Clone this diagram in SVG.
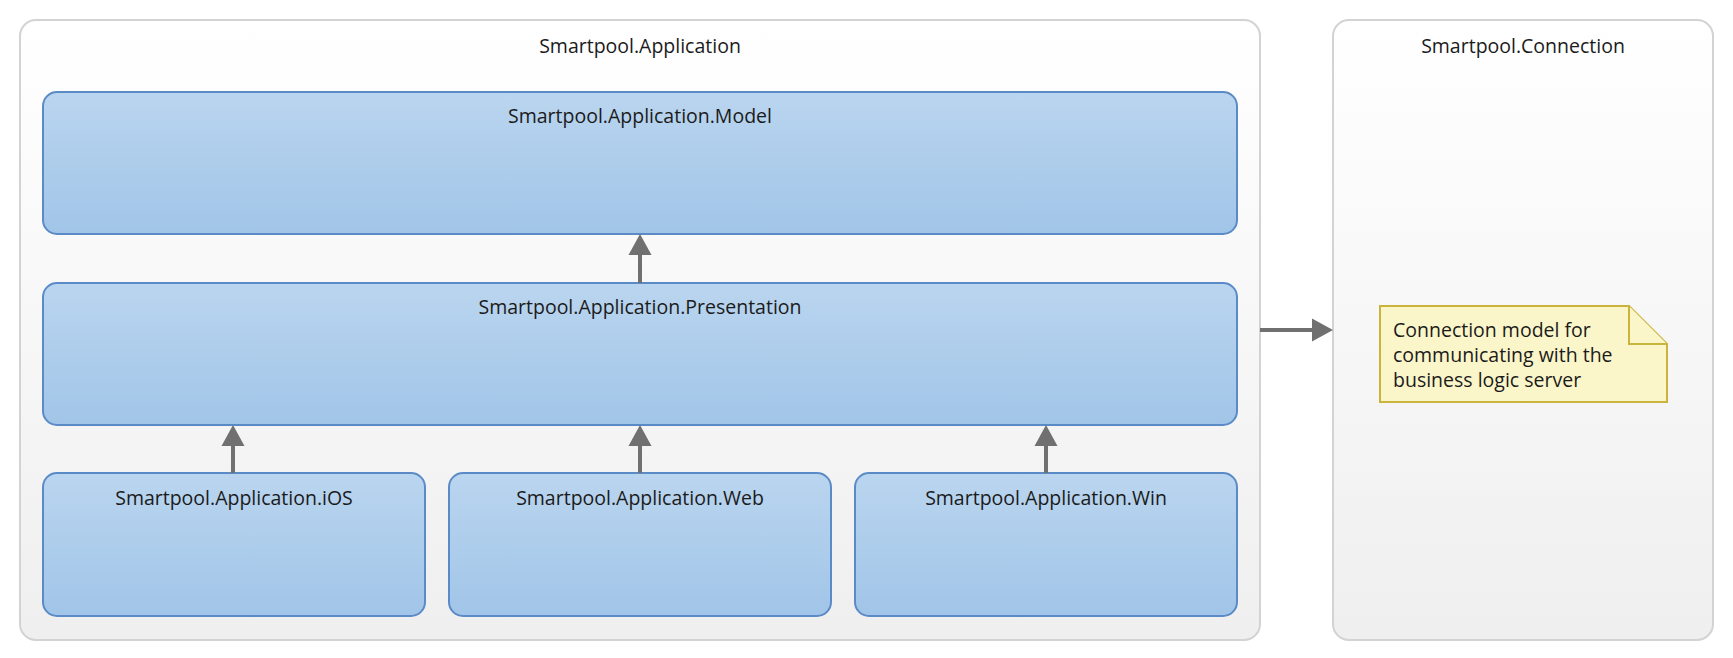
<svg xmlns="http://www.w3.org/2000/svg" width="1733" height="658" viewBox="0 0 1733 658">
  <style>
    .container { stroke: #d3d3d3; stroke-width: 2; fill: url(#gContainer); }
    .box { stroke: #5b8bc7; stroke-width: 2; fill: url(#gBox); }
    .label { font-family: "Open Sans", "Noto Sans", sans-serif; font-size: 19.5px; fill: #1b1b1b; text-anchor: middle; }
    .note-text { font-family: "Open Sans", "Noto Sans", sans-serif; font-size: 19.5px; fill: #1b1b1b; }
    .note { fill: #fbf6c9; stroke: #cbb43c; stroke-width: 2; stroke-linejoin: miter; }
    .conn { stroke: #707070; stroke-width: 4; fill: none; }
    .head { fill: #707070; }
  </style>
  <defs>
    <linearGradient id="gContainer" x1="0" y1="0" x2="0" y2="1">
      <stop offset="0" stop-color="#ffffff"/>
      <stop offset="1" stop-color="#efefef"/>
    </linearGradient>
    <linearGradient id="gBox" x1="0" y1="0" x2="0" y2="1">
      <stop offset="0" stop-color="#bad5ef"/>
      <stop offset="1" stop-color="#a1c5e8"/>
    </linearGradient>
  </defs>
  <rect width="1733" height="658" fill="#ffffff"/>

  <g id="app">
    <rect class="container" x="20" y="20" width="1240" height="620" rx="16"/>
    <text class="label" x="640" y="53">Smartpool.Application</text>
  </g>
  <g id="connection">
    <rect class="container" x="1333" y="20" width="380" height="620" rx="16"/>
    <text class="label" x="1523" y="53">Smartpool.Connection</text>
  </g>
  <g id="model">
    <rect class="box" x="43" y="92" width="1194" height="142" rx="14"/>
    <text class="label" x="640" y="123">Smartpool.Application.Model</text>
  </g>
  <g id="presentation">
    <rect class="box" x="43" y="283" width="1194" height="142" rx="14"/>
    <text class="label" x="640" y="314">Smartpool.Application.Presentation</text>
  </g>
  <g id="ios">
    <rect class="box" x="43" y="473" width="382" height="143" rx="14"/>
    <text class="label" x="234" y="505">Smartpool.Application.iOS</text>
  </g>
  <g id="web">
    <rect class="box" x="449" y="473" width="382" height="143" rx="14"/>
    <text class="label" x="640" y="505">Smartpool.Application.Web</text>
  </g>
  <g id="win">
    <rect class="box" x="855" y="473" width="382" height="143" rx="14"/>
    <text class="label" x="1046" y="505">Smartpool.Application.Win</text>
  </g>
  <g id="note">
    <path class="note" d="M1380,306 H1629 L1667,344 V402 H1380 Z"/>
    <path class="note" d="M1629,306 V344 H1667"/>
    <text class="note-text" x="1393" y="337">Connection model for</text>
    <text class="note-text" x="1393" y="362">communicating with the</text>
    <text class="note-text" x="1393" y="387">business logic server</text>
  </g>

  <g id="connectors">
    <line class="conn" x1="640" y1="283" x2="640" y2="252"/>
    <polygon class="head" points="640,234 651.5,255 628.5,255"/>
    <line class="conn" x1="233" y1="473" x2="233" y2="443"/>
    <polygon class="head" points="233,425 244.5,446 221.5,446"/>
    <line class="conn" x1="640" y1="473" x2="640" y2="443"/>
    <polygon class="head" points="640,425 651.5,446 628.5,446"/>
    <line class="conn" x1="1046" y1="473" x2="1046" y2="443"/>
    <polygon class="head" points="1046,425 1057.5,446 1034.5,446"/>
    <line class="conn" x1="1260" y1="330" x2="1315" y2="330"/>
    <polygon class="head" points="1333,330 1312,318.5 1312,341.5"/>
  </g>
</svg>
